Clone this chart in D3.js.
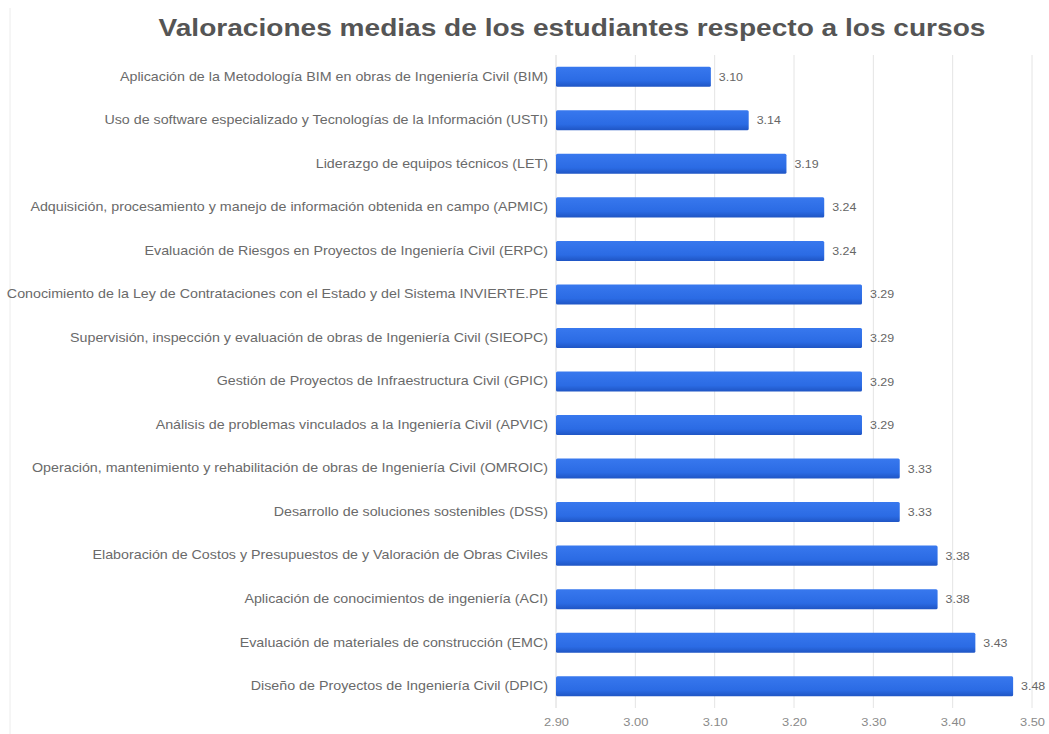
<!DOCTYPE html>
<html><head><meta charset="utf-8">
<script src="https://cdn.jsdelivr.net/npm/d3@7/dist/d3.min.js"></script>
<style>body{margin:0;background:#fff}svg{display:block}text{font-family:"Liberation Sans",Arial,sans-serif}</style>
</head><body><svg id="c" width="1049" height="734"></svg>
<script>
const categories = [
 "Aplicación de la Metodología BIM en obras de Ingeniería Civil (BIM)",
 "Uso de software especializado y Tecnologías de la Información (USTI)",
 "Liderazgo de equipos técnicos (LET)",
 "Adquisición, procesamiento y manejo de información obtenida en campo (APMIC)",
 "Evaluación de Riesgos en Proyectos de Ingeniería Civil (ERPC)",
 "Conocimiento de la Ley de Contrataciones con el Estado y del Sistema INVIERTE.PE",
 "Supervisión, inspección y evaluación de obras de Ingeniería Civil (SIEOPC)",
 "Gestión de Proyectos de Infraestructura Civil (GPIC)",
 "Análisis de problemas vinculados a la Ingeniería Civil (APVIC)",
 "Operación, mantenimiento y rehabilitación de obras de Ingeniería Civil (OMROIC)",
 "Desarrollo de soluciones sostenibles (DSS)",
 "Elaboración de Costos y Presupuestos de y Valoración de Obras Civiles",
 "Aplicación de conocimientos de ingeniería (ACI)",
 "Evaluación de materiales de construcción (EMC)",
 "Diseño de Proyectos de Ingeniería Civil (DPIC)"
];
const values = [3.0952, 3.1429, 3.1905, 3.2381, 3.2381, 3.2857, 3.2857, 3.2857, 3.2857, 3.3333, 3.3333, 3.3810, 3.3810, 3.4286, 3.4762];
const xTicks = [2.9, 3.0, 3.1, 3.2, 3.3, 3.4, 3.5];
const title = "Valoraciones medias de los estudiantes respecto a los cursos";

const SX = 1.19;
function stretch(sel, sx) {
  sel.each(function() {
    const t = d3.select(this);
    const xv = +(t.attr("x") || 0);
    t.attr("transform", `translate(${xv},0) scale(${sx},1) translate(${-xv},0)`);
  });
}

const svg = d3.select("#c");
const x = d3.scaleLinear().domain([2.9, 3.5]).range([556, 1032]);
const y = d3.scaleBand().domain(categories).range([55, 708]).paddingInner(0.54).paddingOuter(0.27);

const defs = svg.append("defs");
const g = defs.append("linearGradient").attr("id","bg").attr("x1",0).attr("y1",0).attr("x2",0).attr("y2",1);
g.append("stop").attr("offset","0%").attr("stop-color","#3878ee");
g.append("stop").attr("offset","70%").attr("stop-color","#2b6be4");
g.append("stop").attr("offset","100%").attr("stop-color","#1f55c4");

svg.append("line").attr("x1",10).attr("x2",10).attr("y1",8).attr("y2",734).attr("stroke","#ececec");

svg.append("text").attr("x",572).attr("y",36).attr("text-anchor","middle")
  .attr("font-size",24).attr("font-weight","bold").attr("fill","#555").text(title)
  .call(stretch, 1.17);

svg.append("g").selectAll("line").data(xTicks).join("line")
  .attr("x1",d=>x(d)).attr("x2",d=>x(d)).attr("y1",55).attr("y2",708)
  .attr("stroke",(d,i)=>i===0?"#d8d8d8":"#e4e4e4");

const xa = svg.append("g").attr("transform","translate(0,708)")
  .call(d3.axisBottom(x).tickValues(xTicks).tickFormat(d3.format(".2f")).tickSize(0).tickPadding(10));
xa.select(".domain").remove();
xa.selectAll("text").attr("fill","#8a8a8a").attr("font-size",11.5).attr("font-family","Liberation Sans, Arial, sans-serif")
  .call(stretch, 1.12);

const ya = svg.append("g").attr("transform","translate(556,0)")
  .call(d3.axisLeft(y).tickSize(0).tickPadding(8));
ya.select(".domain").remove();
ya.selectAll("text").attr("fill","#6a6a6a").attr("font-size",12).attr("font-family","Liberation Sans, Arial, sans-serif")
  .call(stretch, SX);

svg.append("g").selectAll("rect").data(values).join("rect")
  .attr("x",x(2.9)).attr("y",(d,i)=>y(categories[i])).attr("height",y.bandwidth())
  .attr("width",d=>x(d)-x(2.9)).attr("fill","url(#bg)").attr("rx",1.5);

svg.append("g").selectAll("text").data(values).join("text")
  .attr("x",d=>x(d)+8).attr("y",(d,i)=>y(categories[i])+y.bandwidth()/2).attr("dy","0.35em")
  .attr("font-size",11.5).attr("fill","#666").text(d=>d.toFixed(2))
  .call(stretch, 1.08);
</script></body></html>
